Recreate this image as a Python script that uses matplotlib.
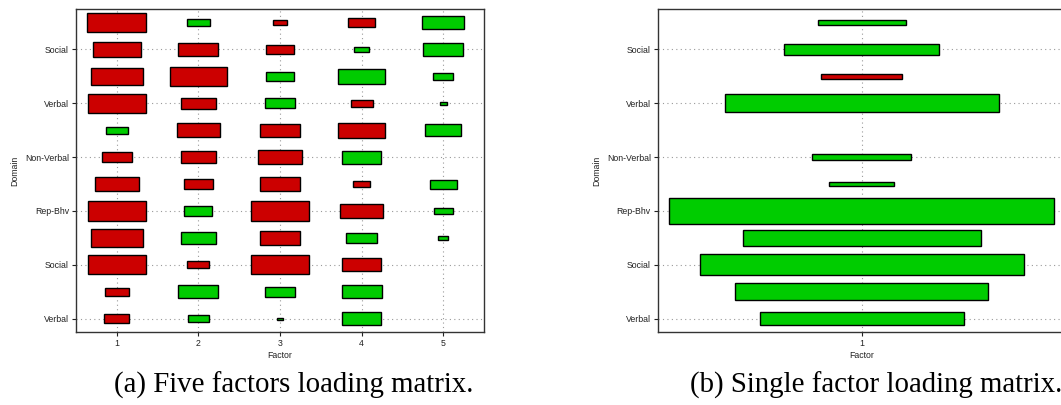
import numpy as np
import matplotlib.pyplot as plt
from matplotlib.patches import Rectangle

plt.rcParams['font.family'] = ['Liberation Sans', 'DejaVu Sans']

# row labels (bottom to top); only every other row carries a label
domain_ticks = [1, 3, 5, 7, 9, 11]
domain_labels = ['Verbal', 'Social', 'Rep-Bhv', 'Non-Verbal', 'Verbal', 'Social']
n_rows = 12

# five-factor loadings, rows 1..12 (bottom to top), columns = factors 1..5
five_factor = np.array([
    [-0.096, 0.062, 0.006, 0.230, 0.000],
    [-0.090, 0.240, 0.130, 0.240, 0.000],
    [-0.500, -0.073, -0.490, -0.230, 0.000],
    [-0.410, 0.190, -0.250, 0.145, 0.016],
    [-0.510, 0.116, -0.510, -0.280, 0.053],
    [-0.290, -0.130, -0.250, -0.040, 0.110],
    [-0.137, -0.180, -0.280, 0.230, 0.000],
    [0.073, -0.270, -0.230, -0.325, 0.190],
    [-0.510, -0.180, 0.130, -0.073, 0.008],
    [-0.410, -0.500, 0.116, 0.340, 0.062],
    [-0.345, -0.240, -0.116, 0.032, 0.235],
    [-0.520, 0.084, -0.027, -0.110, 0.264],
])

# single-factor loadings, rows 1..12 (bottom to top)
single_factor = np.array([
    0.250, 0.385, 0.630, 0.340, 0.890, 0.025,
    0.059, 0.000, 0.450, -0.039, 0.145, 0.047,
]).reshape(-1, 1)

POS = '#00cc00'
NEG = '#cc0000'


def hinton(ax, w):
    rows, cols = w.shape
    for r in range(rows):
        for c in range(cols):
            v = w[r, c]
            if v == 0:
                continue
            side = np.sqrt(abs(v))
            x, y = c + 1, r + 1
            ax.add_patch(Rectangle((x - side / 2, y - side / 2), side, side,
                                   facecolor=POS if v > 0 else NEG,
                                   edgecolor='black', linewidth=1.0, zorder=3))
    ax.set_xlim(0.5, cols + 0.5)
    ax.set_ylim(0.5, n_rows + 0.5)
    ax.set_xticks(np.arange(1, cols + 1))
    ax.set_yticks(domain_ticks)
    ax.set_yticklabels(domain_labels)
    ax.grid(True, color='#9a9a9a', linestyle=(0, (1, 3)), linewidth=0.8, zorder=0)
    ax.set_axisbelow(True)
    ax.tick_params(direction='out', length=3, width=0.8, labelsize=6.3,
                   pad=2, colors='#222222', top=False, right=False)
    for s in ax.spines.values():
        s.set_color('#333333')
        s.set_linewidth(1.0)
    ax.set_xlabel('Factor', fontsize=6.3, labelpad=2, color='#222222')
    ax.set_ylabel('Domain', fontsize=6.3, labelpad=4, color='#222222')


fig = plt.figure(figsize=(10.61, 4.05), dpi=100)
ax1 = fig.add_axes([0.0716, 0.180, 0.3846, 0.7975])
ax2 = fig.add_axes([0.6199, 0.180, 0.3846, 0.7975])

hinton(ax1, five_factor)
hinton(ax2, single_factor)

fig.text(0.277, 0.030, '(a) Five factors loading matrix.', ha='center', va='baseline',
         fontsize=20.8, family='Liberation Serif')
fig.text(0.8255, 0.030, '(b) Single factor loading matrix.', ha='center', va='baseline',
         fontsize=20.8, family='Liberation Serif')

fig.savefig('out.png', dpi=100)
